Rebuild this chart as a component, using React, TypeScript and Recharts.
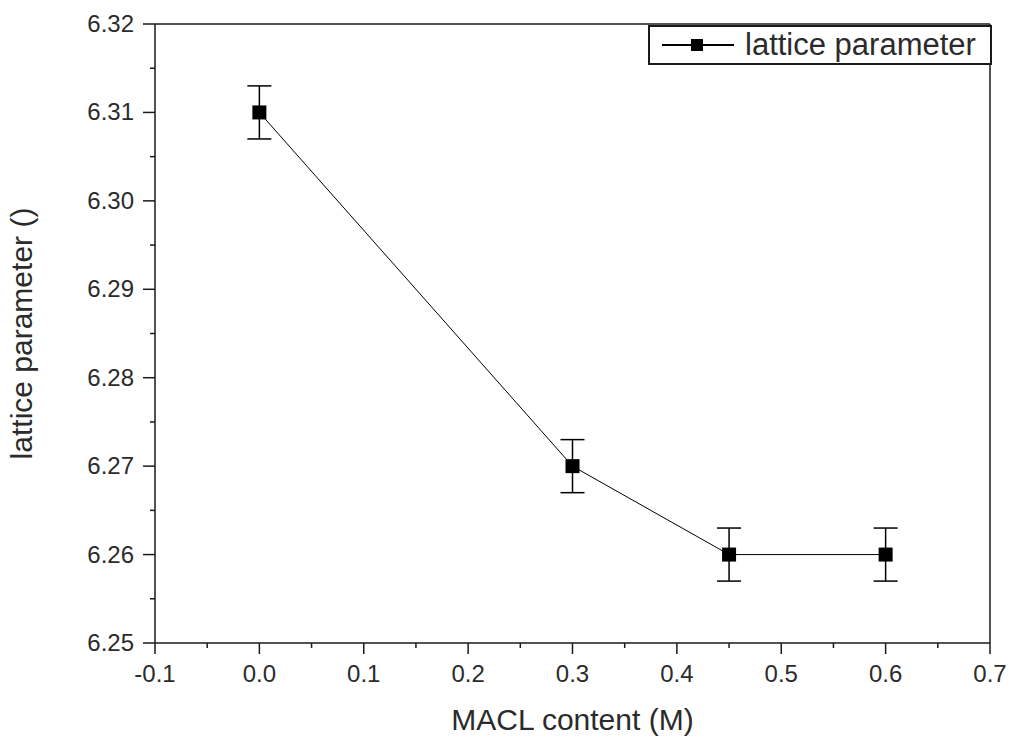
import { LineChart, Line, XAxis, YAxis, ErrorBar, ReferenceLine, Legend } from 'recharts'

// MACL content (M) vs lattice parameter
const macl = [0.0, 0.3, 0.45, 0.6];
const lattice = [6.31, 6.27, 6.26, 6.26];
const latticeErr = [0.003, 0.003, 0.003, 0.003];

const xMajor = [-0.1, 0.0, 0.1, 0.2, 0.3, 0.4, 0.5, 0.6, 0.7];
const xMinor = [-0.05, 0.05, 0.15, 0.25, 0.35, 0.45, 0.55, 0.65];
const yMajor = [6.25, 6.26, 6.27, 6.28, 6.29, 6.30, 6.31, 6.32];
const yMinor = [6.255, 6.265, 6.275, 6.285, 6.295, 6.305, 6.315];

const data = macl.map((x, i) => ({ x, y: lattice[i], err: latticeErr[i] }));

const INK = '#1a1a1a';
const TXT = '#2b2b2b';
const FONT = '"Liberation Sans", Arial, sans-serif';

const isMajor = (list: number[], v: number) => list.some(m => Math.abs(m - v) < 1e-6);

const XTick = (props: any) => {
    const { x, y, payload } = props;
    const major = isMajor(xMajor, payload.value);
    return (
        <g>
            <line x1={x} x2={x} y1={y} y2={y + (major ? 11 : 5)} stroke={INK} strokeWidth={1.5} />
            {major && (
                <text x={x} y={y + 39} textAnchor="middle" fontSize={24} fill={TXT} fontFamily={FONT}>
                    {payload.value.toFixed(1)}
                </text>
            )}
        </g>
    );
};

const YTick = (props: any) => {
    const { x, y, payload } = props;
    const major = isMajor(yMajor, payload.value);
    return (
        <g>
            <line x1={x} x2={x - (major ? 12 : 5)} y1={y} y2={y} stroke={INK} strokeWidth={1.5} />
            {major && (
                <text x={x - 21} y={y + 8} textAnchor="end" fontSize={24} fill={TXT} fontFamily={FONT}>
                    {payload.value.toFixed(2)}
                </text>
            )}
        </g>
    );
};

const Square = (props: any) => {
    const { cx, cy, size = 14 } = props;
    if (cx == null || cy == null) return null;
    return <rect x={cx - size / 2} y={cy - size / 2} width={size} height={size} fill="#000" />;
};

const LegendBox = () => (
    <div style={{
        width: 340, height: 36, border: `2px solid ${INK}`, background: '#fff',
        display: 'flex', alignItems: 'center', boxSizing: 'content-box', fontFamily: FONT
    }}>
        <svg width={95} height={36}>
            <line x1={12} x2={84} y1={18} y2={18} stroke="#000" strokeWidth={2} />
            <rect x={41} y={12} width={12} height={12} fill="#000" />
        </svg>
        <span style={{ fontSize: 31, color: TXT, lineHeight: '36px' }}>lattice parameter</span>
    </div>
);

export default function App() {
    return (
        <div style={{ position: 'absolute', left: 0, top: 0, background: '#fff' }}>
            <LineChart width={1009} height={740} data={data} margin={{ top: 24, right: 19, left: 0, bottom: 0 }}>
                <XAxis
                    dataKey="x"
                    type="number"
                    domain={[-0.1, 0.7]}
                    ticks={[...xMajor, ...xMinor].sort((a, b) => a - b)}
                    tick={<XTick />}
                    tickLine={false}
                    tickSize={0}
                    tickMargin={0}
                    height={97}
                    axisLine={{ stroke: INK, strokeWidth: 1.5 }}
                    interval={0}
                    allowDataOverflow
                    label={{ value: 'MACL content (M)', position: 'insideBottom', offset: 10, fontSize: 30, fill: TXT, fontFamily: FONT } as any}
                />
                <YAxis
                    type="number"
                    domain={[6.25, 6.32]}
                    ticks={[...yMajor, ...yMinor].sort((a, b) => a - b)}
                    tick={<YTick />}
                    tickLine={false}
                    tickSize={0}
                    tickMargin={0}
                    width={155}
                    axisLine={{ stroke: INK, strokeWidth: 1.5 }}
                    interval={0}
                    allowDataOverflow
                    label={(p: any) => {
                        const vb = p.viewBox;
                        const cy = vb.y + vb.height / 2;
                        return (
                            <text x={32} y={cy} transform={`rotate(-90, 32, ${cy})`} textAnchor="middle"
                                fontSize={30} fill={TXT} fontFamily={FONT}>
                                lattice parameter ()
                            </text>
                        );
                    }}
                />
                <ReferenceLine y={6.32} stroke={INK} strokeWidth={1.5} ifOverflow="visible" />
                <ReferenceLine x={0.7} stroke={INK} strokeWidth={1.5} ifOverflow="visible" />
                <Legend
                    layout="vertical"
                    align="center"
                    verticalAlign="middle"
                    content={<LegendBox />}
                    wrapperStyle={{ position: 'absolute', left: 648, top: 25, width: 344 }}
                />
                <Line
                    type="linear"
                    dataKey="y"
                    name="lattice parameter"
                    stroke="#000"
                    strokeWidth={1}
                    dot={<Square />}
                    activeDot={false}
                    isAnimationActive={false}
                >
                    <ErrorBar dataKey="err" width={12} stroke="#000" strokeWidth={1.5} direction="y" />
                </Line>
            </LineChart>
        </div>
    );
}
